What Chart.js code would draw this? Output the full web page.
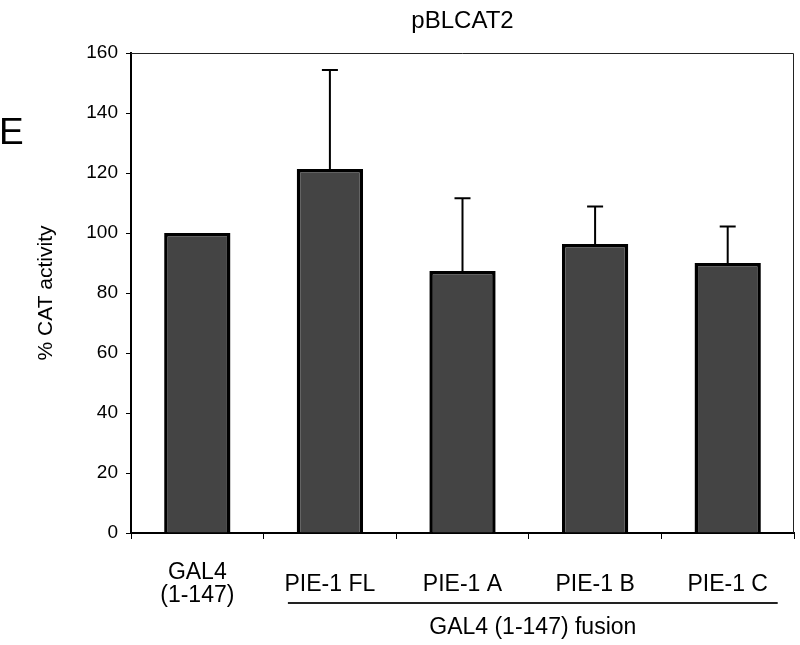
<!DOCTYPE html>
<html lang="en">
    <head>
        <meta charset="UTF-8" />
        <title>pBLCAT2 - % CAT activity</title>
        <script src="https://cdn.jsdelivr.net/npm/chart.js"></script>
        <style>
            html, body { margin: 0; padding: 0; background: #fff; }
            canvas { display: block; }
        </style>
    </head>
    <body>
        <canvas id="catChart" width="800" height="645"></canvas>

        <script>
            // values
            const categories = [['GAL4', '(1-147)'], 'PIE-1 FL', 'PIE-1 A', 'PIE-1 B', 'PIE-1 C'];
            const activity = [100, 121.3, 87.3, 96.3, 90.0];
            const errorUp = [0, 33.0, 24.3, 12.5, 12.2];
            const yTicks = [0, 20, 40, 60, 80, 100, 120, 140, 160];
            const chartTitle = 'pBLCAT2';
            const panelLetter = 'E';
            const yTitle = '% CAT activity';
            const groupLabel = 'GAL4 (1-147) fusion';

            const fontFamily = '"Liberation Sans", Arial, Helvetica, sans-serif';
            Chart.defaults.font.family = fontFamily;
            Chart.defaults.color = '#000';

            // error bars (upper only), frame, and all the text outside the axes
            const decorations = {
                id: 'decorations',
                afterDatasetsDraw(chart) {
                    const ctx = chart.ctx;
                    const meta = chart.getDatasetMeta(0);
                    const y = chart.scales.y;
                    ctx.save();
                    ctx.strokeStyle = '#000';
                    ctx.lineWidth = 2;
                    meta.data.forEach((bar, i) => {
                        if (!errorUp[i]) return;
                        const top = y.getPixelForValue(activity[i] + errorUp[i]);
                        ctx.beginPath();
                        ctx.moveTo(bar.x, bar.y);
                        ctx.lineTo(bar.x, top);
                        ctx.moveTo(bar.x - 8, top);
                        ctx.lineTo(bar.x + 8, top);
                        ctx.stroke();
                    });
                    ctx.restore();
                },
                afterDraw(chart) {
                    const ctx = chart.ctx;
                    const area = chart.chartArea;
                    const x = chart.scales.x;
                    ctx.save();

                    // thin frame on top and right
                    ctx.strokeStyle = '#222';
                    ctx.lineWidth = 1;
                    ctx.beginPath();
                    ctx.moveTo(area.left, area.top + 0.5);
                    ctx.lineTo(area.right - 0.5, area.top + 0.5);
                    ctx.lineTo(area.right - 0.5, area.bottom);
                    ctx.stroke();

                    ctx.fillStyle = '#000';
                    ctx.textAlign = 'center';
                    ctx.textBaseline = 'middle';

                    ctx.font = '24px ' + fontFamily;
                    ctx.fillText(chartTitle, (area.left + area.right) / 2, 21);

                    ctx.textAlign = 'left';
                    ctx.font = '37px ' + fontFamily;
                    ctx.fillText(panelLetter, -1, 134);

                    // category labels
                    ctx.textAlign = 'center';
                    ctx.font = '23px ' + fontFamily;
                    categories.forEach((label, i) => {
                        const cx = x.getPixelForValue(i);
                        if (Array.isArray(label)) {
                            ctx.fillText(label[0], cx, 573);
                            ctx.fillText(label[1], cx, 596);
                        } else {
                            ctx.fillText(label, cx, 585);
                        }
                    });

                    // bracket line under the fusion constructs
                    const x0 = x.getPixelForValue(1) - 42;
                    const x1 = x.getPixelForValue(4) + 50;
                    ctx.lineWidth = 2;
                    ctx.beginPath();
                    ctx.moveTo(x0, 603);
                    ctx.lineTo(x1, 603);
                    ctx.stroke();
                    ctx.fillText(groupLabel, (x0 + x1) / 2, 628);

                    ctx.restore();
                }
            };

            new Chart(document.getElementById('catChart'), {
                type: 'bar',
                data: {
                    labels: categories,
                    datasets: [
                        {
                            data: activity,
                            backgroundColor: '#444444',
                            borderColor: '#000',
                            borderWidth: 3.5,
                            barPercentage: 0.5,
                            categoryPercentage: 1.0
                        }
                    ]
                },
                options: {
                    responsive: false,
                    animation: false,
                    layout: { padding: { top: 53, right: 6, left: 0, bottom: 0 } },
                    plugins: {
                        legend: { display: false },
                        tooltip: { enabled: false }
                    },
                    scales: {
                        x: {
                            afterFit: (scale) => { scale.height = 112; },
                            grid: { drawOnChartArea: false, tickLength: 6, color: '#000', lineWidth: 1 },
                            border: { display: true, color: '#000', width: 2 },
                            ticks: { display: false }
                        },
                        y: {
                            min: 0,
                            max: 160,
                            afterFit: (scale) => { scale.width = 131; },
                            afterBuildTicks: (scale) => {
                                scale.ticks = yTicks.map((v) => ({ value: v }));
                            },
                            grid: { drawOnChartArea: false, tickLength: 5, color: '#000', lineWidth: 1 },
                            border: { display: true, color: '#000', width: 2 },
                            ticks: { font: { size: 19 }, padding: 8, color: '#000' },
                            title: {
                                display: true,
                                text: yTitle,
                                font: { size: 21 },
                                padding: { top: 34, bottom: 0 },
                                color: '#000'
                            }
                        }
                    }
                },
                plugins: [decorations]
            });
        </script>
    </body>
</html>
